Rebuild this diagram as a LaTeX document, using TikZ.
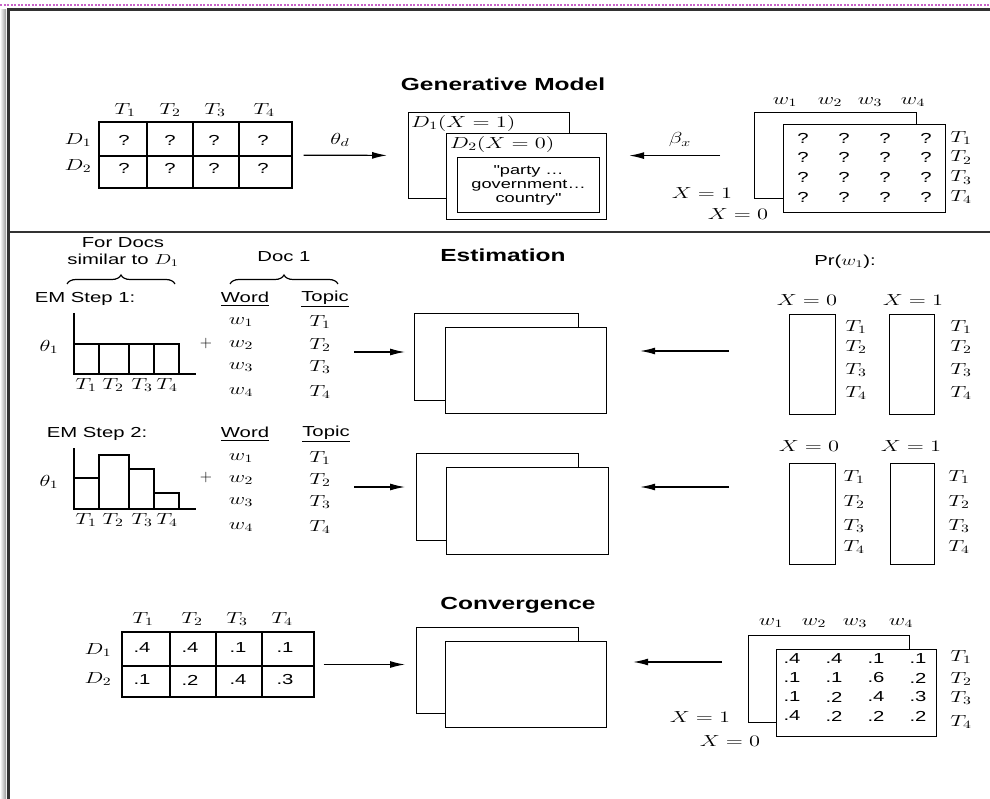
\RequirePackage{fix-cm}
\documentclass[tikz,border=0pt]{standalone}
\usepackage[no-math]{fontspec}
\usepackage{graphicx}
\usepackage{amsmath}
\usetikzlibrary{arrows.meta,calc,decorations.pathreplacing}
\newfontfamily\hv{Liberation Sans}[FakeStretch=1.4]
\definecolor{framegray}{RGB}{50,50,50}
\definecolor{dotpink}{RGB}{200,100,200}
\newcommand{\wm}[1]{\scalebox{1.4}[1]{$#1$}}

\begin{document}
\begin{tikzpicture}[x=1pt, y=-1pt,
    sheet/.style={draw, line width=1.2pt, fill=white, inner sep=0pt, anchor=north west},
    title/.style={font=\hv\bfseries\fontsize{17.5}{20}\selectfont},
    txt/.style={font=\hv\fontsize{14.5}{17}\selectfont, inner sep=1pt},
    small/.style={font=\hv\fontsize{13}{14}\selectfont, inner sep=1pt},
    lbl/.style={font=\fontsize{16}{18}\selectfont, inner sep=1pt},
    arr/.style={-{Latex[length=15pt,width=7pt]}, line width=1.2pt},
    gridline/.style={line width=1.3pt}]
    \useasboundingbox (0,0) rectangle (990,799);

    % Draw window frame
    \shade[left color=white, right color=black!40] (0,10) rectangle (6,799);
    \draw[dotpink, line width=2pt, dash pattern=on 2pt off 1.5pt] (0,5) -- (990,5);
    \draw[framegray, line width=3pt] (8,799) -- (8,10) -- (990,10);
    \draw[framegray, line width=1.5pt] (8,232) -- (990,232);

    % Generative model
    \node[title] (gentitle) at (503,84) {Generative Model};

    % Document-topic matrix
    \node[draw, line width=1.3pt, minimum width=193pt, minimum height=66pt, inner sep=0pt] (qmat) at (195.5,155) {};
    \draw[gridline] (99,156) -- (292,156);
    \foreach \x in {147,193,239}
        \draw[gridline] (\x,122) -- (\x,188);
    \foreach \x/\t in {125/1,170/2,215/3,264/4}
        \node[lbl] (qt\t) at (\x,110) {\wm{T_\t}};
    \node[lbl] (qd1) at (78,140) {\wm{D_1}};
    \node[lbl] (qd2) at (78,166) {\wm{D_2}};
    \foreach \x [count=\i] in {124,170,214,263} {
        \node[txt] (qa\i) at (\x,140) {?};
        \node[txt] (qb\i) at (\x,168) {?};
    }

    % Documents
    \node[sheet, minimum width=161pt, minimum height=86pt] (genback) at (408,112) {};
    \node[lbl, anchor=north west] (gd1) at (410,114) {\wm{D_1(X=1)}};
    \node[sheet, minimum width=160pt, minimum height=86pt] (genfront) at (446,133) {};
    \node[lbl, anchor=north west] (gd2) at (449,135) {\wm{D_2(X=0)}};
    \node[sheet, minimum width=142pt, minimum height=55pt] (gtext) at (457,157) {};
    \node[small, align=center] (gwords) at (gtext.center) {"party \ldots\\government\ldots\\country"};

    % Topic-word matrices
    \node[sheet, minimum width=162pt, minimum height=86pt] (wback) at (754,112) {};
    \node[sheet, minimum width=162pt, minimum height=88pt] (wfront) at (783,124) {};
    \foreach \x [count=\i] in {785,830,870,913}
        \node[lbl] (ww\i) at (\x,102) {\wm{w_\i}};
    \foreach \j in {1,...,4} {
        \foreach \i in {1,...,4}
            \node[txt] (wq\j\i) at ({803+41*(\i-1)},{138+19.7*(\j-1)}) {?};
        \node[lbl] (wt\j) at (961,{138+19.7*(\j-1)}) {\wm{T_\j}};
    }
    \node[lbl] (wx1) at (702,193) {\wm{X=1}};
    \node[lbl] (wx0) at (738,214) {\wm{X=0}};

    % Arrows into documents
    \node[lbl] (thd) at (340,140) {\wm{\theta_d}};
    \draw[arr, shorten <=11pt, shorten >=21pt] (qmat) -- (genback);
    \node[lbl] (btx) at (680,140) {\wm{\beta_x}};
    \draw[arr, shorten <=34pt, shorten >=22pt] (wback.west) -- (genfront.east |- wback.west);

    % Estimation
    \node[title] (esttitle) at (503,255) {Estimation};
    \node[txt, align=center] (simdocs) at (123,252) {For Docs\\similar to \wm{D_1}};
    \draw[line width=1.2pt, decorate, decoration={brace, amplitude=9pt}] (67,284) -- (175,284);
    \node[txt] (doc1) at (284,257) {Doc 1};
    \draw[line width=1.2pt, decorate, decoration={brace, amplitude=9pt}] (230,284) -- (338,284);

    % EM step 1
    \node[txt] (step1) at (85,299) {EM Step 1:};
    \node[txt] (word1) at (245,299) {\underline{Word}};
    \node[txt] (topic1) at (325,299) {\underline{Topic}};
    \foreach \y [count=\i] in {322,345,367,392} {
        \node[lbl] (sw\i) at (241,\y) {\wm{w_\i}};
        \node[lbl] (st\i) at (320,\y) {\wm{T_\i}};
    }
    \node[lbl] (plus1) at (206,344) {$+$};
    \node[lbl] (th1) at (49,347) {\wm{\theta_1}};
    \draw[gridline] (74,313) -- (74,374) -- (196,374);
    \foreach \a/\b in {74/99,99/129,129/154,154/179}
        \draw[gridline] (\a,374) rectangle (\b,344);
    \foreach \x [count=\i] in {86,113,142,167}
        \node[lbl] (ha\i) at (\x,385) {\wm{T_\i}};

    \node[sheet, minimum width=164pt, minimum height=87pt] (e1back) at (414,313) {};
    \node[sheet, minimum width=161pt, minimum height=86pt] (e1front) at (445,327) {};
    \coordinate (e1in) at (354,352);
    \draw[arr, shorten >=9pt] (e1in) -- (e1back.west |- e1in);
    \coordinate (e1out) at (729,351);
    \draw[arr, shorten >=33pt] (e1out) -- (e1front.east |- e1out);

    \node[txt] (prw) at (845,262) {Pr(\wm{w_1}):};
    \node[lbl] (e1x0) at (807,300) {\wm{X=0}};
    \node[lbl] (e1x1) at (913,300) {\wm{X=1}};
    \node[sheet, minimum width=46pt, minimum height=100pt] (e1c0) at (789,314) {};
    \node[sheet, minimum width=45pt, minimum height=100pt] (e1c1) at (889,314) {};
    \foreach \y [count=\i] in {327,347,370,393} {
        \node[lbl] (e1l\i) at (856,\y) {\wm{T_\i}};
        \node[lbl] (e1r\i) at (961,\y) {\wm{T_\i}};
    }

    % EM step 2
    \node[txt] (step2) at (97,434) {EM Step 2:};
    \node[txt] (word2) at (245,434) {\underline{Word}};
    \node[txt] (topic2) at (326,434) {\underline{Topic}};
    \foreach \y [count=\i] in {458,480,502,527} {
        \node[lbl] (tw\i) at (241,\y) {\wm{w_\i}};
        \node[lbl] (tt\i) at (320,\y) {\wm{T_\i}};
    }
    \node[lbl] (plus2) at (206,477) {$+$};
    \node[lbl] (th2) at (49,482) {\wm{\theta_1}};
    \draw[gridline] (74,448) -- (74,509) -- (196,509);
    \foreach \a/\b/\h in {74/99/478,99/129/455,129/154/469,154/179/493}
        \draw[gridline] (\a,509) rectangle (\b,\h);
    \foreach \x [count=\i] in {86,113,142,167}
        \node[lbl] (hb\i) at (\x,520) {\wm{T_\i}};

    \node[sheet, minimum width=162pt, minimum height=87pt] (e2back) at (416,453) {};
    \node[sheet, minimum width=162pt, minimum height=87pt] (e2front) at (446,467) {};
    \coordinate (e2in) at (354,487);
    \draw[arr, shorten >=11pt] (e2in) -- (e2back.west |- e2in);
    \coordinate (e2out) at (729,487);
    \draw[arr, shorten >=31pt] (e2out) -- (e2front.east |- e2out);

    \node[lbl] (e2x0) at (809,446) {\wm{X=0}};
    \node[lbl] (e2x1) at (911,446) {\wm{X=1}};
    \node[sheet, minimum width=46pt, minimum height=101pt] (e2c0) at (789,463) {};
    \node[sheet, minimum width=44pt, minimum height=101pt] (e2c1) at (890,463) {};
    \foreach \y [count=\i] in {477,502,526,547} {
        \node[lbl] (e2l\i) at (854,\y) {\wm{T_\i}};
        \node[lbl] (e2r\i) at (959,\y) {\wm{T_\i}};
    }

    % Convergence
    \node[title] (convtitle) at (518,605) {Convergence};
    \node[draw, line width=1.3pt, minimum width=192pt, minimum height=65pt, inner sep=0pt] (cmat) at (218,664.5) {};
    \draw[gridline] (122,666) -- (314,666);
    \foreach \x in {170,216,262}
        \draw[gridline] (\x,632) -- (\x,697);
    \foreach \x [count=\i] in {143,192,237,282}
        \node[lbl] (ct\i) at (\x,619) {\wm{T_\i}};
    \node[lbl] (cd1) at (98,650) {\wm{D_1}};
    \node[lbl] (cd2) at (98,679) {\wm{D_2}};
    \foreach \x/\u/\v [count=\i] in {142/.4/.1,190/.4/.2,238/.1/.4,285/.1/.3} {
        \node[txt] (ca\i) at (\x,648) {\u};
        \node[txt] (cb\i) at (\x,680) {\v};
    }

    \node[sheet, minimum width=162pt, minimum height=86pt] (cback) at (416,627) {};
    \node[sheet, minimum width=161pt, minimum height=86pt] (cfront) at (445,641) {};

    \node[sheet, minimum width=161pt, minimum height=87pt] (vback) at (748,635) {};
    \node[sheet, minimum width=160pt, minimum height=87pt] (vfront) at (776,649) {};
    \foreach \x [count=\i] in {771,814,855,901}
        \node[lbl] (vw\i) at (\x,623) {\wm{w_\i}};
    \foreach \row [count=\j] in {{.4,.4,.1,.1},{.1,.1,.6,.2},{.1,.2,.4,.3},{.4,.2,.2,.2}} {
        \foreach \v [count=\i] in \row
            \node[txt] (v\j\i) at ({792+42*(\i-1)},{640+19*\j}) {\v};
    }
    \foreach \y [count=\i] in {657,679,698,722}
        \node[lbl] (vt\i) at (961,\y) {\wm{T_\i}};
    \node[lbl] (vx1) at (700,717) {\wm{X=1}};
    \node[lbl] (vx0) at (730,741) {\wm{X=0}};

    \draw[arr, shorten <=9pt, shorten >=11pt] (cmat.east) -- (cback.west |- cmat.east);
    \coordinate (cout) at (722,662);
    \draw[arr, shorten >=26pt] (cout) -- (cfront.east |- cout);
\end{tikzpicture}
\end{document}
